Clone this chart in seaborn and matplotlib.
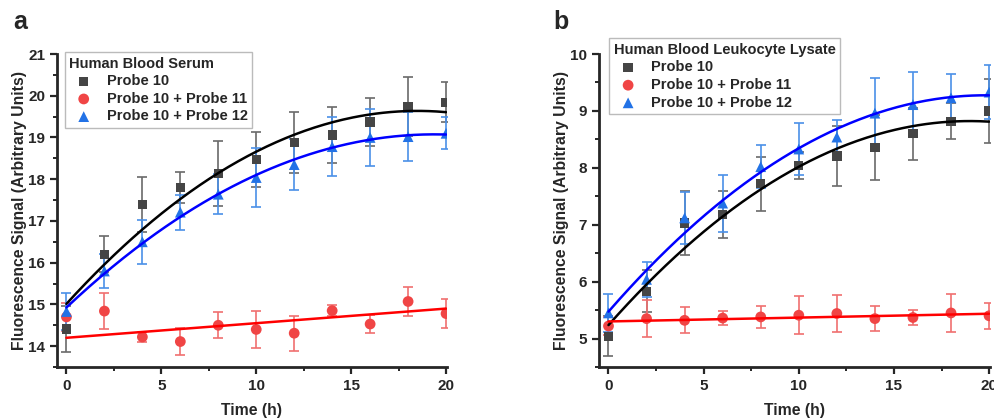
import numpy as np
import pandas as pd
import matplotlib
matplotlib.use('Agg')
import matplotlib.pyplot as plt
from matplotlib.ticker import MultipleLocator
import seaborn as sns

# dados
tempo = [0, 2, 4, 6, 8, 10, 12, 14, 16, 18, 20]

soro_p10 = [14.41, 16.2, 17.4, 17.8, 18.13, 18.48, 18.88, 19.06, 19.37, 19.75, 19.84]
soro_p10_err = [0.55, 0.43, 0.66, 0.37, 0.78, 0.66, 0.72, 0.66, 0.57, 0.71, 0.48]
soro_p11 = [14.7, 14.84, 14.22, 14.11, 14.5, 14.4, 14.31, 14.85, 14.53, 15.07, 14.78]
soro_p11_err = [0.33, 0.44, 0.12, 0.32, 0.31, 0.44, 0.42, 0.13, 0.22, 0.35, 0.34]
soro_p12 = [14.83, 15.8, 16.5, 17.21, 17.64, 18.04, 18.35, 18.78, 19.0, 19.02, 19.1]
soro_p12_err = [0.45, 0.4, 0.52, 0.42, 0.48, 0.7, 0.62, 0.7, 0.68, 0.58, 0.38]
soro_p11_ajuste_t = [0, 20]
soro_p11_ajuste = [14.2, 14.9]

leuco_p10 = [5.04, 5.83, 7.03, 7.18, 7.72, 8.04, 8.21, 8.36, 8.6, 8.82, 9.0]
leuco_p10_err = [0.35, 0.37, 0.57, 0.41, 0.47, 0.24, 0.53, 0.57, 0.46, 0.32, 0.56]
leuco_p11 = [5.22, 5.35, 5.32, 5.36, 5.38, 5.41, 5.44, 5.35, 5.37, 5.45, 5.4]
leuco_p11_err = [0.15, 0.33, 0.23, 0.12, 0.2, 0.33, 0.32, 0.22, 0.13, 0.33, 0.23]
leuco_p12 = [5.45, 6.04, 7.12, 7.38, 8.02, 8.33, 8.54, 8.96, 9.11, 9.23, 9.33]
leuco_p12_err = [0.33, 0.31, 0.46, 0.5, 0.38, 0.45, 0.3, 0.61, 0.57, 0.41, 0.48]

rotulos = ['Probe 10', 'Probe 10 + Probe 11', 'Probe 10 + Probe 12']

sns.set_style('ticks')
plt.rcParams['font.family'] = ['Liberation Sans', 'DejaVu Sans']
plt.rcParams['font.weight'] = 'bold'

fig = plt.figure(figsize=(9.94, 4.19), dpi=100)
ax_a = fig.add_axes([0.0573, 0.1241, 0.3924, 0.747])
ax_b = fig.add_axes([0.6026, 0.1241, 0.3934, 0.747])

# cor marcador, cor barra de erro, cor ajuste, marcador, grau do ajuste, tamanho
estilos = [
    ('#454545', '#6a6a6a', 'black', 's', 2, 45),
    ('#f04545', '#f07070', 'red', 'o', 1, 60),
    ('#2272e6', '#4a90e8', 'blue', '^', 2, 60),
]


def painel(ax, series, erros, titulo, ylim, anchor, ajustes_fixos=None):
    t = np.array(tempo)
    ajustes_fixos = ajustes_fixos or {}
    for i, (y, e, est, rot) in enumerate(zip(series, erros, estilos, rotulos)):
        cor, cor_err, cor_fit, mk, grau, s = est
        ax.errorbar(t, y, yerr=e, fmt='none', ecolor=cor_err, elinewidth=1.2,
                    capsize=3.5, capthick=1.2, zorder=2)
        df = pd.DataFrame({'t': t, 'y': y})
        sns.scatterplot(data=df, x='t', y='y', marker=mk, color=cor, s=s,
                        edgecolor='none', ax=ax, zorder=3, label=rot)
        if i in ajustes_fixos:
            tt, yy = ajustes_fixos[i]
            fit = pd.DataFrame({'t': tt, 'y': yy})
        else:
            coef = np.polyfit(t, y, grau)
            tt = np.linspace(0, 20, 200)
            fit = pd.DataFrame({'t': tt, 'y': np.polyval(coef, tt)})
        sns.lineplot(data=fit, x='t', y='y', color=cor_fit, linewidth=1.8,
                     ax=ax, zorder=4, legend=False)
    ax.set_xlim(-0.5, 20.05)
    ax.set_ylim(*ylim)
    ax.xaxis.set_major_locator(MultipleLocator(5))
    ax.xaxis.set_minor_locator(MultipleLocator(2.5))
    ax.yaxis.set_major_locator(MultipleLocator(1))
    ax.yaxis.set_minor_locator(MultipleLocator(0.5))
    ax.tick_params(which='major', length=5, width=1.6, labelsize=11)
    ax.tick_params(which='minor', length=3, width=1.4)
    for lab in ax.get_xticklabels() + ax.get_yticklabels():
        lab.set_fontweight('bold')
    sns.despine(ax=ax)
    for sp in ['left', 'bottom']:
        ax.spines[sp].set_linewidth(2.0)
    ax.set_xlabel('Time (h)', fontsize=11.3, fontweight='bold', labelpad=7)
    ax.set_ylabel('Fluorescence Signal (Arbitrary Units)', fontsize=11.3,
                  fontweight='bold', labelpad=1)
    leg = ax.legend(title=titulo, loc='upper left', bbox_to_anchor=anchor,
                    borderaxespad=0, frameon=True, fancybox=False,
                    edgecolor='#aaaaaa', fontsize=10.5, title_fontsize=10.5,
                    handletextpad=0.6, labelspacing=0.25, borderpad=0.3,
                    alignment='left')
    leg.get_title().set_fontweight('bold')
    for txt in leg.get_texts():
        txt.set_fontweight('bold')
    leg.get_frame().set_linewidth(1.0)


painel(ax_a, [soro_p10, soro_p11, soro_p12],
       [soro_p10_err, soro_p11_err, soro_p12_err],
       'Human Blood Serum', (13.5, 21), (0.02, 1.006),
       ajustes_fixos={1: (soro_p11_ajuste_t, soro_p11_ajuste)})
painel(ax_b, [leuco_p10, leuco_p11, leuco_p12],
       [leuco_p10_err, leuco_p11_err, leuco_p12_err],
       'Human Blood Leukocyte Lysate', (4.5, 10), (0.026, 1.05))

fig.text(0.013, 0.93, 'a', fontsize=18, fontweight='bold')
fig.text(0.557, 0.93, 'b', fontsize=18, fontweight='bold')

fig.savefig('out.png', dpi=100)
